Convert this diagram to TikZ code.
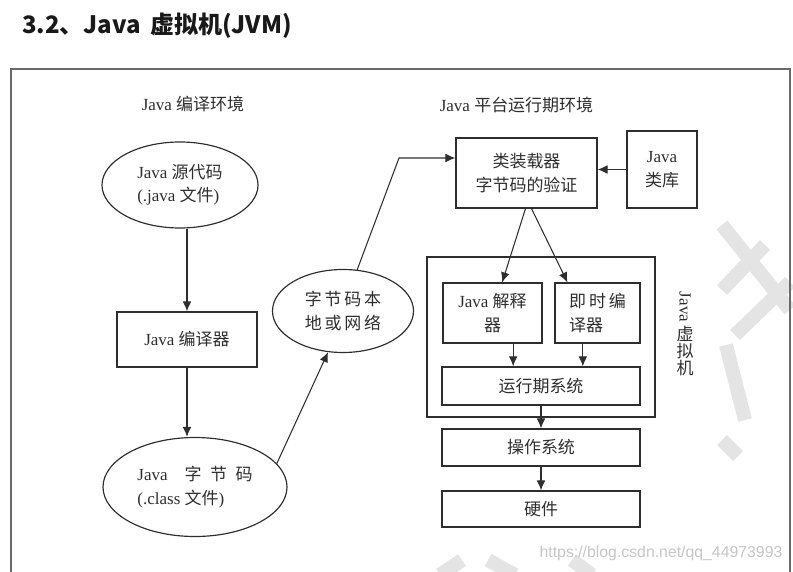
\documentclass[tikz,border=0pt]{standalone}
\usepackage{fontspec}
\setmainfont{Liberation Serif}
\newfontfamily\zhfont{Noto Sans CJK SC}
\newfontfamily\urlfont{Liberation Sans}
\newcommand\zh[1]{{\zhfont #1}}
\usetikzlibrary{arrows.meta,positioning,shapes.geometric}
\definecolor{FrameGray}{HTML}{6A6A6A}
\definecolor{LineDark}{HTML}{2E2E2E}
\definecolor{MarkGray}{HTML}{E4E4E4}

\begin{document}
\begin{tikzpicture}[x=0.03cm,y=-0.03cm,>={Latex[length=3mm,width=2.6mm]},
  every node/.style={font=\fontsize{14.5}{20}\selectfont,text=LineDark},
  box/.style={draw=LineDark,line width=1pt,rectangle,inner sep=0pt,align=center},
  oval/.style={draw=LineDark,line width=1pt,ellipse,inner sep=0pt,align=left},
  arr/.style={->,draw=LineDark,line width=0.9pt},
  wmstroke/.style={MarkGray,line width=0.42cm}]
  \useasboundingbox (0,0) rectangle (793,572);
  % watermark strokes
  \draw[wmstroke] (722,225)--(790,310);
  \draw[wmstroke] (722,290)--(765,245);
  \draw[wmstroke] (735,335)--(790,282);
  \draw[wmstroke] (726,345)--(745,420);
  \draw[wmstroke] (722,440)--(738,456);
  \draw[wmstroke] (440,575)--(462,560);
  \draw[wmstroke] (488,560)--(515,575);
  \draw[wmstroke] (572,560)--(592,575);
  % title and frame
  \node[anchor=west,font=\zhfont\bfseries\fontsize{20.5}{24}\selectfont,text=black!90] (title) at (18,26) {3.2、Java\, 虚拟机(JVM)};
  \draw[FrameGray,line width=1pt] (11,600) -- (11,69) -- (790,69) -- (790,600);
  % compile side
  \node (cenv) at (193,104) {Java \zh{编译环境}};
  \node[oval,minimum width=4.68cm,minimum height=2.58cm] (src) at (180,185) {Java \zh{源代码}\\(.java \zh{文件})};
  \node[box,minimum width=4.2cm,minimum height=1.65cm] (comp) at (187,339.5) {Java \zh{编译器}};
  \node[oval,minimum width=5.52cm,minimum height=2.97cm] (cls) at (195,487) {Java\quad\zh{字\enspace 节\enspace 码}\\(.class \zh{文件})};
  \node[oval,align=center,minimum width=4.23cm,minimum height=2.49cm] (net) at (343,311) {\zh{字\,节\,码\,本}\\\zh{地\,或\,网\,络}};
  % runtime side
  \node (renv) at (516.5,105) {Java \zh{平台运行期环境}};
  \node[box,minimum width=4.23cm,minimum height=2.1cm] (loader) at (526.5,173) {\zh{类装载器}\\\zh{字节码的验证}};
  \node[box,minimum width=2.1cm,minimum height=2.31cm] (lib) at (662,169.5) {Java\\\zh{类库}};
  \node[box,minimum width=6.84cm,minimum height=4.8cm] (jvm) at (541,337) {};
  \node[box,minimum width=2.97cm,minimum height=1.8cm] (interp) at (492.5,313) {Java \zh{解释}\\\zh{器}};
  \node[box,align=left,minimum width=2.55cm,minimum height=1.8cm] (jit) at (597.5,313) {\zh{即\,时\,编}\\\zh{译器}};
  \node[box,minimum width=5.94cm,minimum height=1.14cm] (rt) at (541,386) {\zh{运行期系统}};
  \node[box,minimum width=5.94cm,minimum height=1.11cm] (os) at (541,447.5) {\zh{操作系统}};
  \node[box,minimum width=5.94cm,minimum height=1.08cm] (hw) at (541,509) {\zh{硬件}};
  \node[rotate=-90] (vj) at (685,307) {Java};
  \node[align=center,font=\fontsize{14.5}{14.5}\selectfont] (vzh) at (685,351) {\zh{虚}\\\zh{拟}\\\zh{机}};
  \node[font=\urlfont\fontsize{13.5}{16}\selectfont,text=gray!45] (url) at (661,553) {https://blog.csdn.net/qq\_44973993};
  % connectors
  \coordinate (bend) at (399,158);
  \draw[arr] (comp.north |- src.south) -- (comp.north);
  \draw[arr] (comp.south) -- (comp.south |- cls.north);
  \draw[arr] (cls.16) -- (net.250);
  \draw[arr] (net.71) -- (bend) -- (bend -| loader.west);
  \draw[arr] (lib.west) -- (lib.west -| loader.east);
  \draw[arr] ([xshift=-0.03cm]loader.south) -- ([xshift=0.29cm]interp.north);
  \draw[arr] ([xshift=0.15cm]loader.south) -- ([xshift=-0.9cm]jit.north);
  \draw[arr] ([xshift=0.62cm]interp.south) -- ([xshift=0.62cm]interp.south |- rt.north);
  \draw[arr] ([xshift=-0.44cm]jit.south) -- ([xshift=-0.44cm]jit.south |- rt.north);
  \draw[arr] (rt.south) -- (os.north);
  \draw[arr] (os.south) -- (hw.north);
\end{tikzpicture}
\end{document}
